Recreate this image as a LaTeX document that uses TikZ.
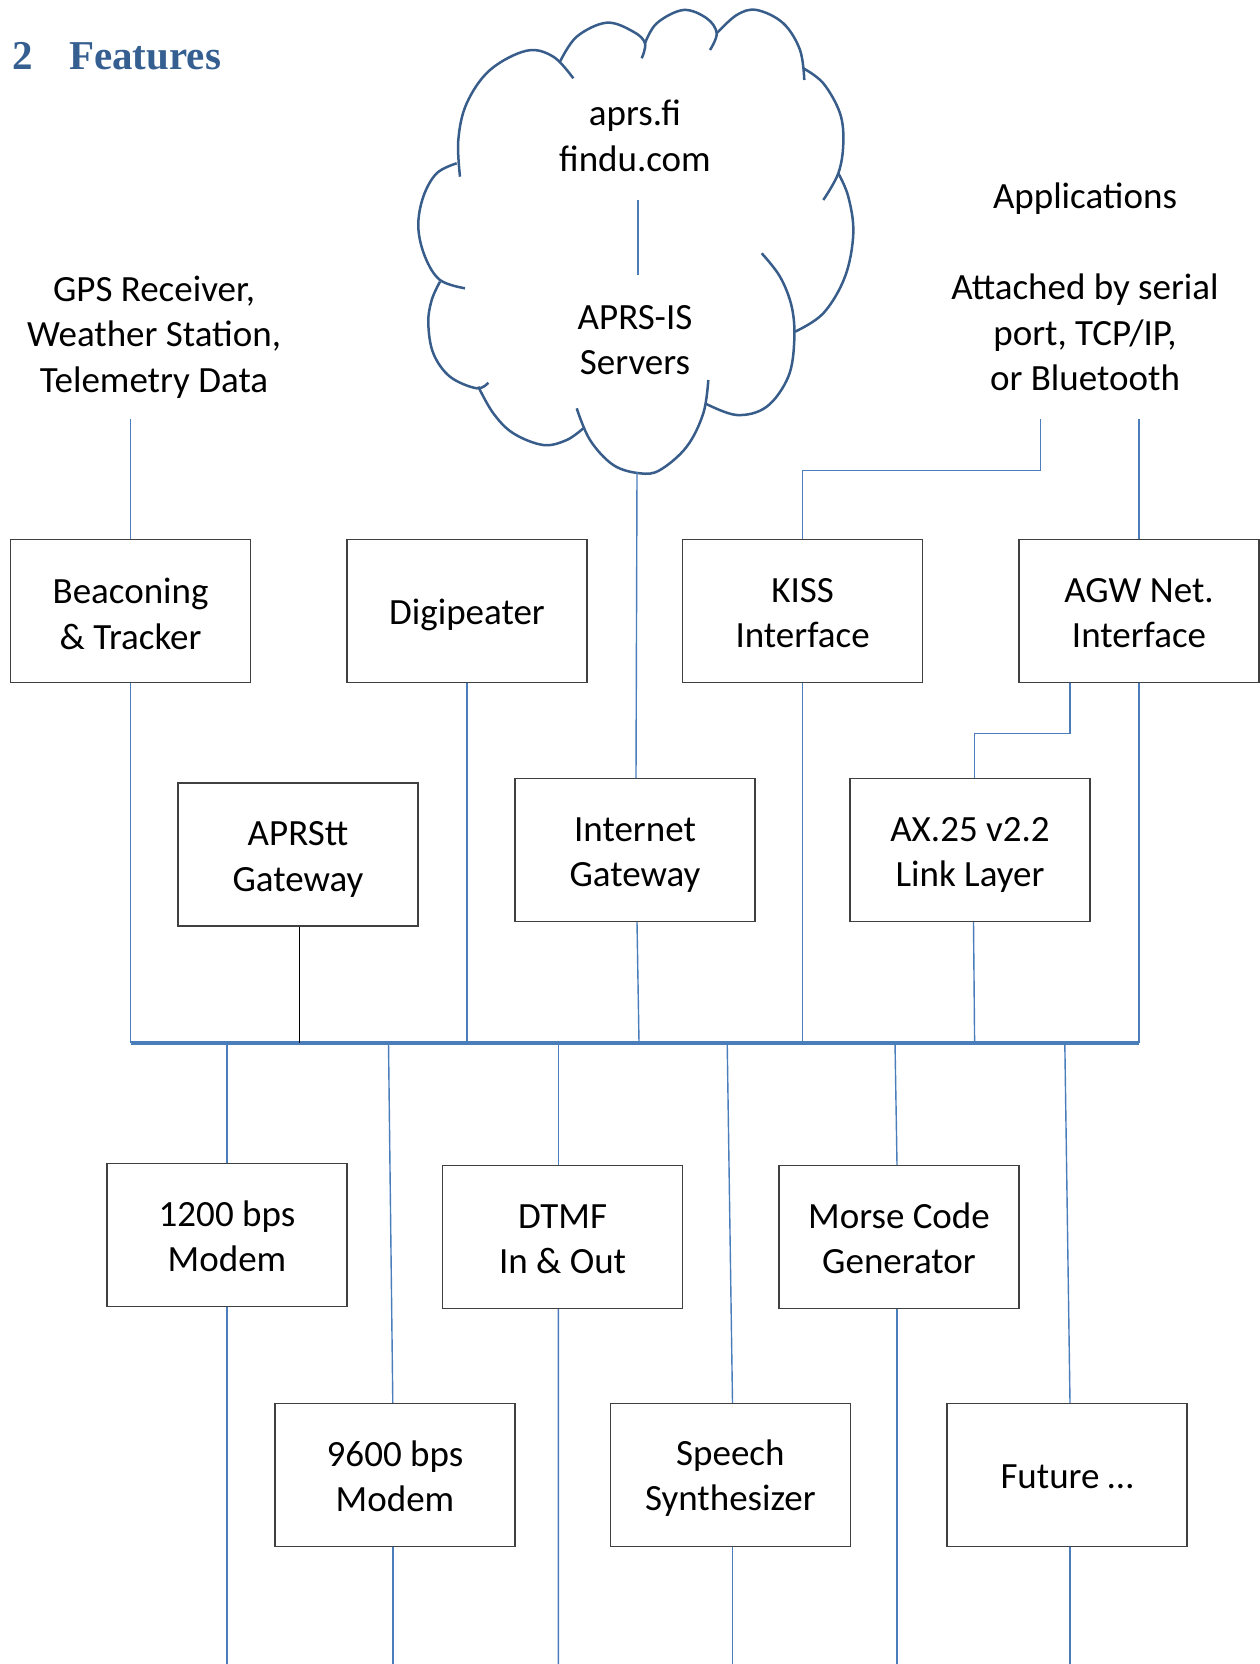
\documentclass[tikz,border=0pt]{standalone}
\usepackage{fontspec}
\setmainfont{Carlito}
\newfontfamily\headfont{Liberation Serif}
\definecolor{boxline}{HTML}{404040}
\definecolor{conncol}{HTML}{4A7EBB}
\definecolor{cloudcol}{HTML}{385D8A}
\definecolor{headcol}{HTML}{365F91}
\begin{document}
\begin{tikzpicture}[x=1pt,y=-1pt,
  every node/.style={font=\fontsize{37}{45.3}\selectfont, align=center, inner sep=0pt},
  fbox/.style={draw=boxline, line width=1.4pt, minimum width=240pt, minimum height=143pt, fill=white},
  conn/.style={draw=conncol, line width=1.4pt},
  blk/.style={draw=black, line width=1.6pt},
  lobe/.style={draw=cloudcol, line width=2.5pt, smooth, tension=0.6}]
\useasboundingbox (0,0) rectangle (1259,1664);

% heading
\node[anchor=base west, text=headcol, font=\headfont\bfseries\fontsize{41}{48}\selectfont] (hnum) at (12.7,70) {2};
\node[anchor=base west, text=headcol, font=\headfont\bfseries\fontsize{41}{48}\selectfont] (htitle) at (69,70) {Features};

% cloud
\draw[lobe] plot coordinates {(460,176.7) (458.3,140) (466.7,103.3) (490,70) (526.7,50.7) (553.3,56.7) (573.3,78.3)};
\draw[lobe] plot coordinates {(560,61.7) (576.7,36.7) (606.7,22.7) (633.3,31.7) (645,43.3) (641.7,58.3)};
\draw[lobe] plot coordinates {(645,43.3) (656.7,23.3) (683.3,10) (706.7,18.3) (716.7,33.3) (710,50)};
\draw[lobe] plot coordinates {(716.7,33.3) (736.7,15) (756.7,10) (783.3,23.3) (800,50) (804.3,80)};
\draw[lobe] plot coordinates {(803.3,68.3) (823.3,83.3) (840,113.3) (843.3,143.3) (838.3,173.3) (823.3,200)};
\draw[lobe] plot coordinates {(838.3,173.3) (848.3,196.7) (853.3,233.3) (845,276.7) (823.3,313.3) (795,331.7)};
\draw[lobe] plot coordinates {(761.7,253.3) (780,276.7) (791.7,306.7) (794.3,340) (788.3,376.7) (766.7,406.7) (736.7,415) (705,403.3)};
\draw[lobe] plot coordinates {(708.3,380) (703.3,413.3) (686.7,446.7) (660,470) (640,473.3) (613.3,465) (590,440) (576.7,408.3)};
\draw[lobe] plot coordinates {(478.3,386.7) (493.3,413.3) (513.3,433.3) (543.3,445) (566.7,440) (583.3,428.3)};
\draw[lobe] plot coordinates {(440,281.7) (431.7,300) (428.3,323.3) (433.3,353.3) (450,376.7) (476.7,388.3) (488.3,382.7)};
\draw[lobe] plot coordinates {(456.7,163.3) (436.7,173.3) (423.3,196.7) (418.3,226.7) (425,256.7) (440,280) (465,288.3)};

\node (web) at (635,136) {aprs.fi\\findu.com};
\node (aprsis) at (635,340) {APRS-IS\\Servers};
\coordinate (webline) at (638,200);
\coordinate (isline) at (638,275);
\coordinate (cloudbot) at (637,472);
\draw[conn] (webline) -- (isline);

% free texts
\node (gps) at (154,337) {GPS Receiver,\\Weather Station,\\Telemetry Data};
\node (apps) at (1085,199) {Applications};
\node (attach) at (1085,332.5) {Attached by serial\\port, TCP/IP,\\or Bluetooth};
\coordinate (gpsend) at (130.6,419);
\coordinate (appA) at (1040.4,419);
\coordinate (appB) at (1139,419);

% boxes row 1
\node[fbox, label={[yshift=-3pt]center:{Beaconing\\\& Tracker}}] (beacon) at (130.6,611) {};
\node[fbox, label={[yshift=-4pt]center:{Digipeater}}] (digi) at (467,611) {};
\node[fbox, label={[yshift=-2pt]center:{KISS\\Interface}}] (kiss) at (802.6,611) {};
\node[fbox, label={[yshift=-2pt]center:{AGW Net.\\Interface}}] (agw) at (1139,611) {};
% row 2
\node[fbox, label={[yshift=-5pt]center:{APRStt\\Gateway}}] (aprstt) at (298,854.6) {};
\node[fbox, label={[yshift=-5pt]center:{Internet\\Gateway}}] (igate) at (635,850) {};
\node[fbox, label={[yshift=-5pt]center:{AX.25 v2.2\\Link Layer}}] (ax25) at (970,850) {};
% row 3
\node[fbox, label={[yshift=-1pt]center:{1200 bps\\Modem}}] (m1200) at (227,1235) {};
\node[fbox, label={[yshift=-2pt]center:{DTMF\\In \& Out}}] (dtmf) at (562.6,1237) {};
\node[fbox, label={[yshift=-1.5pt]center:{Morse Code\\Generator}}] (morse) at (899,1237) {};
% row 4
\node[fbox, label={[yshift=-1.5pt]center:{9600 bps\\Modem}}] (m9600) at (395,1475) {};
\node[fbox, label={[yshift=-3pt]center:{Speech\\Synthesizer}}] (speech) at (730.4,1475) {};
\node[fbox, label={[yshift=-2pt]center:{Future \dots}}] (future) at (1067,1475) {};

% bus
\coordinate (busL) at (130.6,1042.5);
\coordinate (busR) at (1139,1042.5);
\draw[draw=conncol, line width=4pt] (busL) -- (busR);

% upper connectors
\draw[conn] (gpsend) -- (beacon.north);
\draw[conn] (appB) -- (agw.north);
\draw[conn] (appA) |- (802.6,470.3) -- (kiss.north);
\draw[conn] (cloudbot) -- ([xshift=1pt]igate.north);
\draw[conn] ([xshift=-69pt]agw.south) |- (974.6,733.6) -- ([xshift=4.6pt]ax25.north);

% to bus
\draw[conn] (beacon.south) -- (beacon.south |- busL);
\draw[conn] (digi.south) -- (digi.south |- busL);
\draw[blk] ([xshift=1.4pt]aprstt.south) -- ([xshift=1.4pt]aprstt.south |- busL);
\draw[conn] ([xshift=2pt]igate.south) -- (639,1042.5);
\draw[conn] (kiss.south) -- (kiss.south |- busL);
\draw[conn] ([xshift=3.5pt]ax25.south) -- (974.6,1042.5);
\draw[conn] (agw.south) -- (agw.south |- busL);

% from bus down
\draw[conn] (m1200.north |- busL) -- (m1200.north);
\draw[conn] (388.5,1042.5) -- ([xshift=-2.2pt]m9600.north);
\draw[conn] ([xshift=-4.2pt]dtmf.north |- busL) -- ([xshift=-4.2pt]dtmf.north);
\draw[conn] (727.2,1042.5) -- ([xshift=2.1pt]speech.north);
\draw[conn] (895,1042.5) -- ([xshift=-2pt]morse.north);
\draw[conn] (1064.8,1042.5) -- ([xshift=3pt]future.north);

% down to page bottom
\coordinate (e1) at (227,1664);
\coordinate (e2) at (392.8,1664);
\coordinate (e3) at (558.4,1664);
\coordinate (e4) at (732.5,1664);
\coordinate (e5) at (897,1664);
\coordinate (e6) at (1070,1664);
\draw[conn] (m1200.south) -- (e1);
\draw[conn] ([xshift=-2.2pt]m9600.south) -- (e2);
\draw[conn] ([xshift=-4.2pt]dtmf.south) -- (e3);
\draw[conn] ([xshift=2.1pt]speech.south) -- (e4);
\draw[conn] ([xshift=-2pt]morse.south) -- (e5);
\draw[conn] ([xshift=3pt]future.south) -- (e6);
\end{tikzpicture}
\end{document}
